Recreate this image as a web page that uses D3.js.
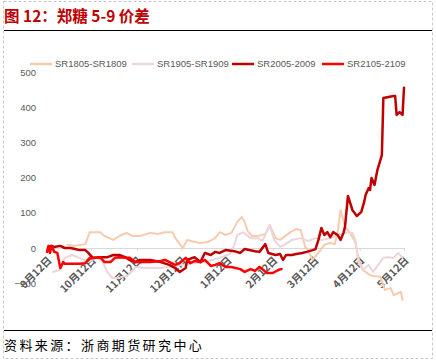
<!DOCTYPE html>
<html><head><meta charset="utf-8">
<script src="https://cdn.jsdelivr.net/npm/d3@7/dist/d3.min.js"></script>
<style>
html,body{margin:0;padding:0;background:#fff;}
svg{display:block;}
</style>
</head><body>
<svg id="c" width="436" height="362"></svg>
<script>
// x = days since 9月12日
const tickDays = [0,30,61,91,122,153,181,212,242];
const tickLabels = ["9月12日","10月12日","11月12日","12月12日","1月12日","2月12日","3月12日","4月12日","5月12日"];
const yTicks = [-100,0,100,200,300,400,500];
const seriesNames = ["SR1805-SR1809","SR1905-SR1909","SR2005-2009","SR2105-2109"];
const seriesColors = ["#F8CBAD","#EBD6DA","#C00000","#FF0000"];

const days1805 = [14,19,26,29,36,39,45,49,54,58,63,70,75,80,85,87,90,92,95,100,104,109,114,117,121,125,129,132,134,136,139,143,148,151,155,158,165,169,172,175,177,180,184,188,192,195,197,199,202,205,209,211,214,216,219,222,226,229,233,235,238,240,241];
const vals1805 = [9,6,11,45,45,34,23,34,43,34,34,43,40,45,45,28,11,0,23,17,14,17,28,45,37,43,74,88,74,48,34,34,40,65,28,23,45,54,51,3,-6,-34,-14,9,14,11,43,108,60,45,17,-26,-62,-68,-77,-80,-82,-119,-114,-134,-128,-125,-148];

const days1905 = [4,9,12,17,22,28,33,37,41,44,49,55,60,66,77,87,97,107,117,124,127,129,133,138,143,146,151,154,158,161,166,172,177,182,186,192,197,202,207,209,211,214,218,221,224,228,231,235,238,241];
const vals1905 = [-68,-62,-28,-20,-28,-40,-28,-34,-68,-85,-85,-77,-54,-57,-57,-51,-45,-40,-28,-17,9,37,45,28,28,20,65,23,3,9,23,28,20,28,23,28,37,43,43,23,-40,-62,-48,-68,-51,-28,-26,-28,-14,-28];

const days2005 = [1,3,5,9,12,16,19,22,26,28,31,36,41,45,49,53,56,60,63,70,77,83,87,90,94,95,100,104,107,111,114,117,121,127,131,134,141,144,148,150,155,158,160,162,166,169,173,176,180,182,184,186,188,190,192,194,197,199,201,202,204,207,210,213,215,216,218,219,220,222,224,227,228,235,236,237,239,241,242];
const vals2005 = [3,6,3,6,0,0,-3,-6,-6,-14,-28,-26,-26,-20,-20,-26,-34,-40,-34,-34,-40,-48,-57,-68,-57,-34,-26,-40,-14,-20,-11,-14,-6,-9,-14,-3,-9,-11,11,-14,-20,-17,-34,-20,-20,-17,-14,-11,-6,-3,23,57,37,45,31,45,37,23,43,60,148,108,91,102,131,151,170,165,199,179,222,264,426,432,432,378,386,378,455];

const days2105 = [0,1,2,3,5,7,9,11,12,16,19,22,26,29,33,36,39,43,46,49,53,56,60,63,70,77,80,83,87,90,94,97,100,104,107,111,114,117,121,125,131,134,138,141,144,146,149,153,157,159];
const vals2105 = [-11,6,-14,6,-11,-14,-57,-40,-45,-45,-45,-45,-43,-30,-28,-26,-40,-40,-28,-26,-28,-28,-40,-40,-40,-37,-34,-40,-48,-43,-28,-43,-37,-40,-34,-51,-48,-43,-54,-54,-60,-68,-60,-65,-54,-60,-71,-71,-62,-60];

const series = [
  {days: days1805, vals: vals1805, w: 2},
  {days: days1905, vals: vals1905, w: 2},
  {days: days2005, vals: vals2005, w: 2.5},
  {days: days2105, vals: vals2105, w: 2.5}
];

const svg = d3.select("#c");
const x = d3.scaleLinear().domain([0,242]).range([47,404]);
const y = d3.scaleLinear().domain([-100,500]).range([283.2,72]);

// outer dashed frame
svg.append("rect").attr("x",3.5).attr("y",1.5).attr("width",429).attr("height",357)
  .attr("fill","none").attr("stroke","#C8C8C8").attr("stroke-dasharray","3,2");

// title
svg.append("text").attr("x",4).attr("y",22)
  .attr("font-family","'Noto Sans CJK SC', 'Liberation Sans', sans-serif")
  .attr("font-size",15.5).attr("font-weight","bold").attr("fill","#C00000")
  .text("图 12：郑糖 5-9 价差");
svg.append("line").attr("x1",4).attr("x2",432).attr("y1",30.5).attr("y2",30.5)
  .attr("stroke","#000").attr("stroke-width",1.2);

// bottom source
svg.append("line").attr("x1",4).attr("x2",432).attr("y1",330.5).attr("y2",330.5)
  .attr("stroke","#000").attr("stroke-width",1.2);
svg.append("text").attr("x",4).attr("y",350)
  .attr("font-family","'Noto Sans CJK SC', sans-serif")
  .attr("font-size",13).attr("letter-spacing","2.4px").attr("fill","#000")
  .text("资料来源：浙商期货研究中心");

// y axis (labels only)
const yAxis = d3.axisLeft(y).tickValues(yTicks).tickSize(0).tickPadding(0);
const gy = svg.append("g").attr("transform","translate(36,0)").call(yAxis);
gy.select(".domain").remove();
gy.selectAll("text").attr("font-family","'Liberation Sans', Arial, sans-serif")
  .attr("font-size",9.5).attr("fill","#595959");

// x axis at zero
const xAxis = d3.axisBottom(x).tickValues(tickDays).tickFormat((d,i)=>tickLabels[i]).tickSize(3).tickSizeOuter(0);
const gx = svg.append("g").attr("transform",`translate(0,${y(0)})`).call(xAxis);
gx.select(".domain").attr("stroke","#D9D9D9").attr("stroke-width",1.2);
gx.selectAll(".tick line").attr("stroke","#D9D9D9");
gx.selectAll("text")
  .attr("font-family","'Noto Sans CJK SC', sans-serif")
  .attr("font-size",10.5).attr("font-weight","bold").attr("fill","#595959")
  .attr("text-anchor","end")
  .attr("dy",null).attr("y",null)
  .attr("transform","translate(5,13) rotate(-45)");

// lines
const line = d3.line().x(d=>x(d[0])).y(d=>y(d[1]));
series.forEach((s,i)=>{
  const pts = s.days.map((d,j)=>[d, s.vals[j]]);
  svg.append("path").datum(pts).attr("d",line)
    .attr("fill","none").attr("stroke",seriesColors[i]).attr("stroke-width",s.w)
    .attr("stroke-linejoin","round").attr("stroke-linecap","round");
});

// legend
const legX = [30,132,232,322];
seriesNames.forEach((n,i)=>{
  const g = svg.append("g").attr("transform",`translate(${legX[i]},64)`);
  g.append("line").attr("x1",0).attr("x2",22).attr("y1",0).attr("y2",0)
    .attr("stroke",seriesColors[i]).attr("stroke-width",2.5);
  g.append("text").attr("x",25).attr("y",3.4)
    .attr("font-family","'Liberation Sans', Arial, sans-serif")
    .attr("font-size",9.5).attr("fill","#595959").text(n);
});
</script>
</body></html>
